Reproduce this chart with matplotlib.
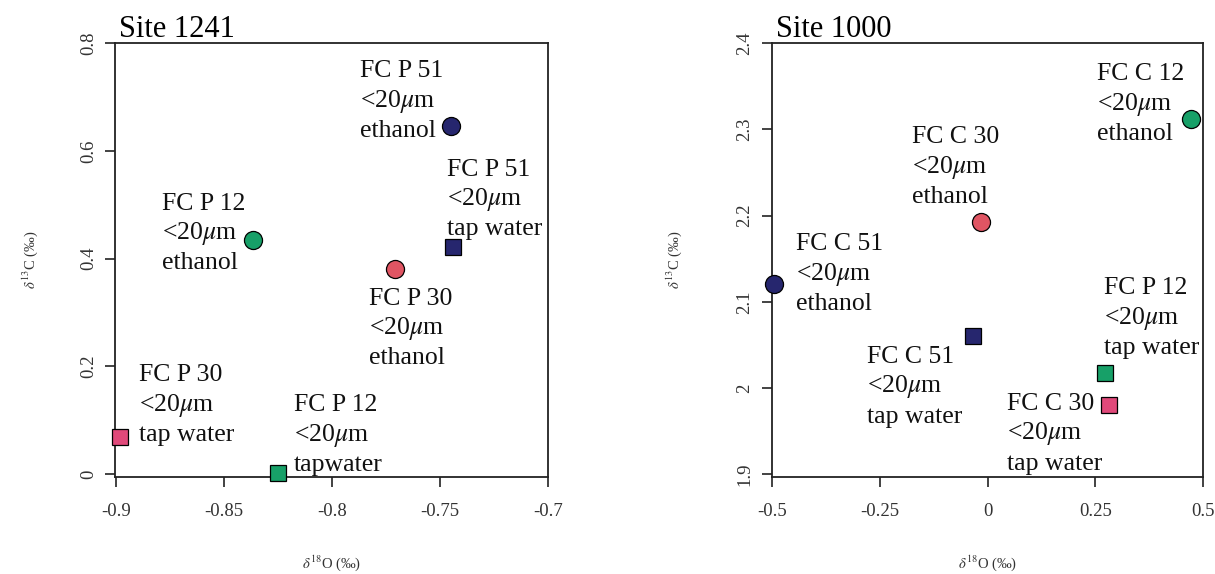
import matplotlib.pyplot as plt

plt.rcParams['font.family'] = ['Liberation Serif', 'DejaVu Serif']
plt.rcParams['mathtext.fontset'] = 'stix'

NAVY = '#26266e'
GREEN = '#17a068'
RED = '#e05563'
PINK = '#e0497a'

# Site 1241 (left panel)
s1241_labels = ['FC P 51', 'FC P 51', 'FC P 12', 'FC P 30', 'FC P 30', 'FC P 12']
s1241_wash = ['ethanol', 'tap water', 'ethanol', 'ethanol', 'tap water', 'tapwater']
s1241_d18o = [-0.745, -0.744, -0.8365, -0.771, -0.898, -0.825]
s1241_d13c = [0.646, 0.421, 0.434, 0.380, 0.069, 0.002]
s1241_marker = ['o', 's', 'o', 'o', 's', 's']
s1241_color = [NAVY, NAVY, GREEN, RED, PINK, GREEN]
# label offsets (pixels) from the point to the last line's baseline start
s1241_offset = [(-91, -11), (-6, 12), (-91, -29), (-26, -95), (19, -4), (16, 2)]

# Site 1000 (right panel)
s1000_labels = ['FC C 12', 'FC C 30', 'FC C 51', 'FC C 51', 'FC P 12', 'FC C 30']
s1000_wash = ['ethanol', 'ethanol', 'ethanol', 'tap water', 'tap water', 'tap water']
s1000_d18o = [0.4725, -0.016, -0.497, -0.034, 0.2716, 0.282]
s1000_d13c = [2.312, 2.193, 2.121, 2.061, 2.018, 1.981]
s1000_marker = ['o', 'o', 'o', 's', 's', 's']
s1000_color = [GREEN, RED, NAVY, NAVY, GREEN, PINK]
s1000_offset = [(-94, -21), (-69, 19), (22, -26), (-106, -87), (-1, 19), (-102, -65)]

fig = plt.figure(figsize=(12.15, 5.74), dpi=100)
ax1 = fig.add_axes([0.0947, 0.169, 0.3564, 0.756])
ax2 = fig.add_axes([0.635, 0.169, 0.355, 0.756])


def draw_panel(ax, title, xs, ys, names, wash, markers, colors, offsets,
               xlim, ylim, xticks, xticklabels, yticks, yticklabels, ylab_x):
    for x, y, m, c, name, w, off in zip(xs, ys, markers, colors, names, wash, offsets):
        ax.plot(x, y, marker=m, ms=13 if m == 'o' else 11.5, mfc=c, mec='black',
                mew=0.9, ls='none', clip_on=False, zorder=3)
        ax.annotate(f'{name}\n<20$\\mu$m\n{w}', (x, y), xytext=off,
                    textcoords='offset pixels', ha='left', va='baseline',
                    fontsize=18.5, linespacing=1.3, color='#111111')
    ax.set_xlim(*xlim)
    ax.set_ylim(*ylim)
    ax.set_xticks(xticks)
    ax.set_xticklabels(xticklabels)
    ax.set_yticks(yticks)
    ax.set_yticklabels(yticklabels, rotation=90, va='center')
    ax.tick_params(direction='out', length=7, width=1.2, labelsize=13.5,
                   labelcolor='#333333', colors='#222222')
    ax.tick_params(axis='x', pad=12)
    ax.tick_params(axis='y', pad=6)
    for sp in ax.spines.values():
        sp.set_linewidth(1.3)
        sp.set_color('#222222')
    ax.set_xlabel('$\\delta^{18}$O (‰)', fontsize=10.5, color='#333333')
    ax.xaxis.set_label_coords(0.5, -0.176)
    ax.set_ylabel('$\\delta^{13}$C (‰)', fontsize=10.5, color='#333333')
    ax.yaxis.set_label_coords(ylab_x, 0.5)
    ax.text(0.01, 1.014, title, transform=ax.transAxes, fontsize=22,
            ha='left', va='baseline', color='black')


draw_panel(ax1, 'Site 1241', s1241_d18o, s1241_d13c, s1241_labels, s1241_wash,
           s1241_marker, s1241_color, s1241_offset,
           (-0.9005, -0.7), (-0.005, 0.8),
           [-0.9, -0.85, -0.8, -0.75, -0.7], ['-0.9', '-0.85', '-0.8', '-0.75', '-0.7'],
           [0, 0.2, 0.4, 0.6, 0.8], ['0', '0.2', '0.4', '0.6', '0.8'], -0.174)

draw_panel(ax2, 'Site 1000', s1000_d18o, s1000_d13c, s1000_labels, s1000_wash,
           s1000_marker, s1000_color, s1000_offset,
           (-0.502, 0.5), (1.897, 2.4),
           [-0.5, -0.25, 0, 0.25, 0.5], ['-0.5', '-0.25', '0', '0.25', '0.5'],
           [1.9, 2.0, 2.1, 2.2, 2.3, 2.4], ['1.9', '2', '2.1', '2.2', '2.3', '2.4'], -0.204)

fig.savefig('out.png', dpi=100, facecolor='white')
